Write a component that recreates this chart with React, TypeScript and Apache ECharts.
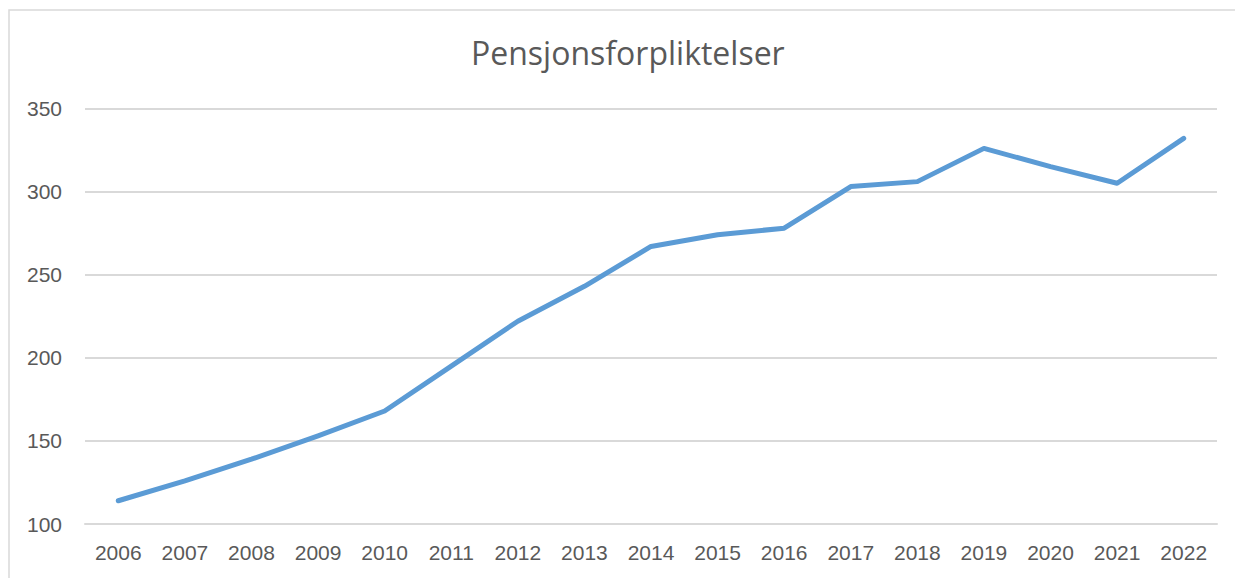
import React, { useEffect, useRef } from "react";
import * as echarts from "echarts";

const title = "Pensjonsforpliktelser";
const years = ["2006","2007","2008","2009","2010","2011","2012","2013","2014","2015","2016","2017","2018","2019","2020","2021","2022"];
const values = [114, 126, 139, 153, 168, 195, 222, 243, 267, 274, 278, 303, 306, 326, 315, 305, 332];
const yMin = 100;
const yMax = 350;
const yStep = 50;

export default function App() {
  const ref = useRef<HTMLDivElement>(null);
  useEffect(() => {
    if (!ref.current) return;
    const chart = echarts.init(ref.current, null, { renderer: "svg" });
    const font = "'Liberation Sans', Arial, sans-serif";
    chart.setOption({
      animation: false,
      backgroundColor: "#ffffff",
      title: {
        text: title,
        left: 471,
        top: 36,
        itemGap: 0,
        padding: 0,
        textStyle: { color: "#595959", fontSize: 32, fontWeight: "normal", fontFamily: "'Open Sans', sans-serif" },
      },
      graphic: [
        {
          type: "rect",
          shape: { x: 9, y: 10, width: 1240, height: 600 },
          style: { fill: "none", stroke: "#d9d9d9", lineWidth: 1.5 },
          silent: true,
        },
      ],
      grid: { left: 85, right: 18, top: 108.5, bottom: 54, containLabel: false },
      xAxis: {
        type: "category",
        data: years,
        boundaryGap: true,
        axisLine: { show: true, lineStyle: { color: "#d9d9d9", width: 2 } },
        axisTick: { show: false },
        axisLabel: { color: "#595959", fontSize: 21, fontFamily: font, margin: 18 },
        splitLine: { show: false },
      },
      yAxis: {
        type: "value",
        min: yMin,
        max: yMax,
        interval: yStep,
        axisLine: { show: false },
        axisTick: { show: false },
        axisLabel: { color: "#595959", fontSize: 21, fontFamily: font, margin: 23 },
        splitLine: { lineStyle: { color: "#d9d9d9", width: 2 } },
      },
      series: [
        {
          type: "line",
          data: values,
          symbol: "none",
          lineStyle: { color: "#5b9bd5", width: 5, cap: "round", join: "round" },
        },
      ],
    });
    return () => chart.dispose();
  }, []);
  return (
    <div
      ref={ref}
      style={{ position: "absolute", left: 0, top: 0, width: 1235, height: 578 }}
    />
  );
}
